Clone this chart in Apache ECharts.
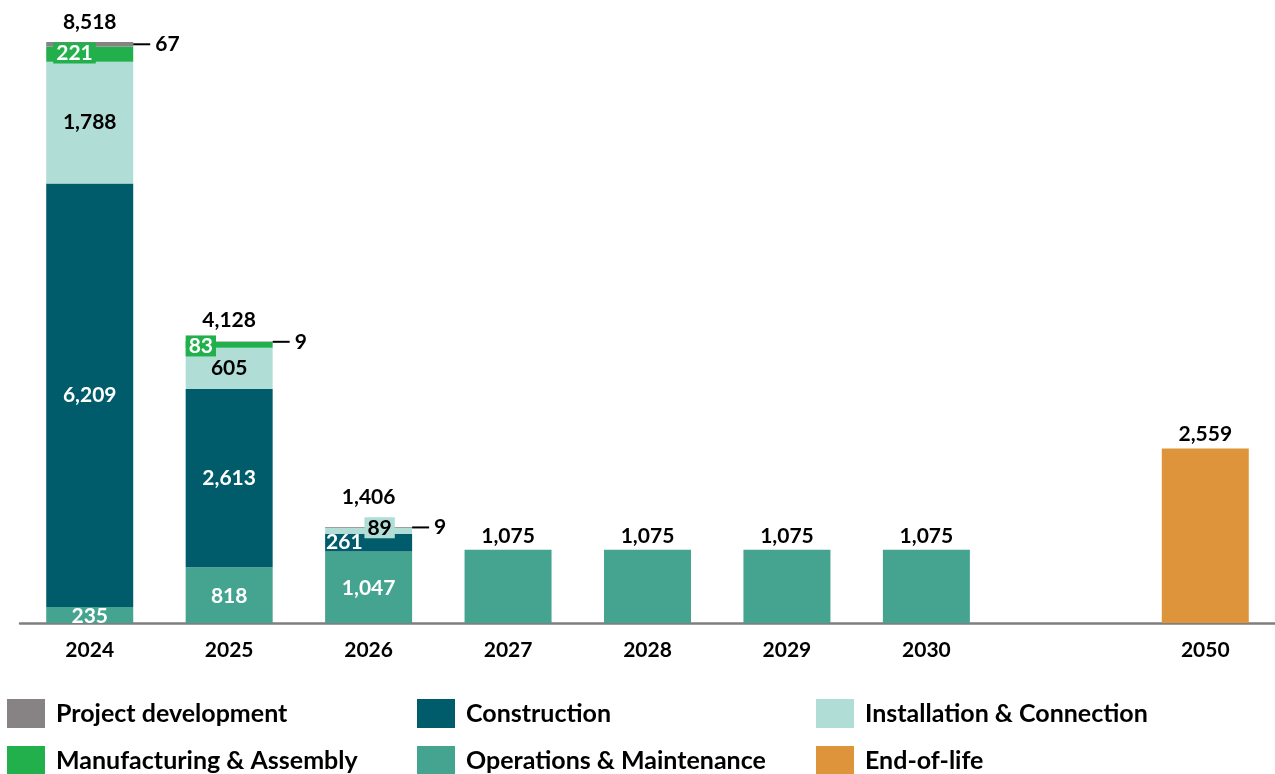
<!DOCTYPE html>
<html lang="en">
<head>
    <meta charset="utf-8">
    <script src="https://cdn.jsdelivr.net/npm/echarts@6/dist/echarts.min.js"></script>
    <title></title>
    <style>body{margin:0;background:#fff;}</style>
</head>
<body>
<div id="main" style="width: 1275px;height:774px;"></div>
<script type="text/javascript">
    var years = ['2024', '2025', '2026', '2027', '2028', '2029', '2030', '', '2050'];
    var operations = [235, 818, 1047, 1075, 1075, 1075, 1075, '-', '-'];
    var construction = [6209, 2613, 261, '-', '-', '-', '-', '-', '-'];
    var installation = [1788, 605, 89, '-', '-', '-', '-', '-', '-'];
    var manufacturing = [221, 83, '-', '-', '-', '-', '-', '-', '-'];
    var projectDev = [67, 9, 9, '-', '-', '-', '-', '-', '-'];
    var endOfLife = ['-', '-', '-', '-', '-', '-', '-', '-', 2559];
    var totals = [8518, 4128, 1406, 1075, 1075, 1075, 1075, '-', 2559];

    var FONT = 'Lato';
    var fmt = function (v) { return Number(v).toLocaleString('en-US'); };
    var numStyle = {fontFamily: FONT, fontSize: 21, fontWeight: 'bold'};

    function items(values, labelFor) {
        return values.map(function (v, i) {
            if (v === '-') return '-';
            var lab = labelFor ? labelFor(i) : null;
            return lab ? {value: v, label: lab} : v;
        });
    }

    function inside(color, extra) {
        return Object.assign({
            show: true, position: 'inside', color: color,
            formatter: function (p) { return fmt(p.value); }
        }, numStyle, extra || {});
    }

    var myChart = echarts.init(document.getElementById('main'));

    // one legend per entry so the two rows don't wrap into columns
    var legendText = {fontFamily: FONT, fontSize: 25, fontWeight: 'bold', color: '#000', padding: [3, 0, 0, 6]};
    function legendItem(name, left, top) {
        return {
            data: [name], left: left, top: top, padding: 0,
            itemWidth: 38, itemHeight: 29, icon: 'rect', textStyle: legendText
        };
    }

    var option = {
        animation: false,
        grid: {left: 20, right: 0, top: 42, bottom: 151},
        legend: [
            legendItem('Project development', 7, 699),
            legendItem('Manufacturing & Assembly', 7, 746),
            legendItem('Construction', 417, 699),
            legendItem('Operations & Maintenance', 417, 746),
            legendItem('Installation & Connection', 816, 699),
            legendItem('End-of-life', 816, 746)
        ],
        xAxis: {
            type: 'category',
            data: years,
            axisLine: {lineStyle: {color: '#7f7f7f', width: 2.5}},
            axisTick: {show: false},
            axisLabel: {color: '#000', fontFamily: FONT, fontSize: 21, fontWeight: 'bold', margin: 17}
        },
        yAxis: {type: 'value', min: 0, max: 8520, show: false, splitLine: {show: false}},
        series: [
            {
                name: 'Operations & Maintenance', type: 'bar', stack: 'a', barWidth: 87,
                itemStyle: {color: '#45a48f'},
                data: items(operations, function (i) { return i < 3 ? inside('#fff', {offset: [0, 1]}) : null; })
            },
            {
                name: 'Construction', type: 'bar', stack: 'a',
                itemStyle: {color: '#005c6b'},
                data: items(construction, function (i) {
                    if (i === 2) return inside('#fff', {position: 'insideLeft', distance: 1});
                    return inside('#fff');
                })
            },
            {
                name: 'Installation & Connection', type: 'bar', stack: 'a',
                itemStyle: {color: '#b1ddd7'},
                data: items(installation, function (i) {
                    if (i === 2) return inside('#000', {offset: [11, -3], backgroundColor: '#b1ddd7', padding: [0, 3]});
                    return inside('#000');
                })
            },
            {
                name: 'Manufacturing & Assembly', type: 'bar', stack: 'a',
                itemStyle: {color: '#21b04b'},
                data: items(manufacturing, function (i) {
                    return inside('#fff', {
                        position: 'insideLeft', distance: i === 0 ? 7 : 0, offset: [0, i === 0 ? -1 : 1],
                        backgroundColor: '#21b04b', padding: [0, 3]
                    });
                })
            },
            {
                name: 'Project development', type: 'bar', stack: 'a',
                itemStyle: {color: '#878283'},
                data: items(projectDev, function (i) {
                    return {
                        show: true, position: 'right', distance: 0,
                        formatter: function (p) { return '{l|}{v|' + fmt(p.value) + '}'; },
                        rich: {
                            l: {width: 17, height: 2, backgroundColor: '#000', verticalAlign: 'middle'},
                            v: Object.assign({color: '#000', padding: [0, 0, 0, 5], verticalAlign: 'middle'}, numStyle)
                        }
                    };
                })
            },
            {
                name: 'End-of-life', type: 'bar', stack: 'a',
                itemStyle: {color: '#de943b'},
                data: endOfLife
            },
            {
                name: 'Total', type: 'bar', stack: 'a',
                itemStyle: {color: 'transparent'},
                data: totals.map(function (t, i) {
                    if (t === '-') return '-';
                    var dist = [9, 11, 19, 3, 3, 3, 3, 4, 4][i];
                    return {
                        value: 0,
                        label: Object.assign({
                            show: true, position: 'top', distance: dist, color: '#000',
                            formatter: fmt(t)
                        }, numStyle)
                    };
                })
            }
        ]
    };

    myChart.setOption(option);
</script>
</body>
</html>
